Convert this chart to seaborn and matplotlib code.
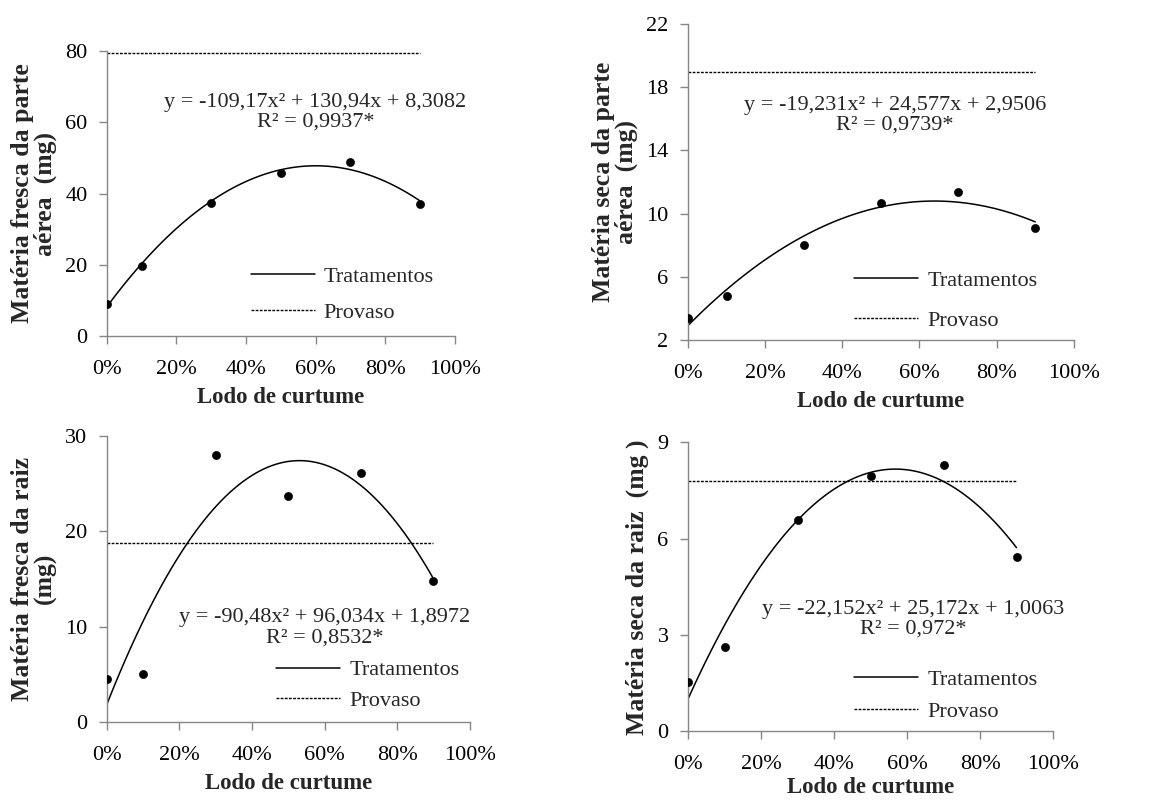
import numpy as np
import seaborn as sns
import matplotlib.pyplot as plt
from matplotlib.ticker import PercentFormatter

# Doses of tannery sludge (fraction)
dose = np.array([0.0, 0.1, 0.3, 0.5, 0.7, 0.9])

mf_parte_aerea = np.array([9.0, 19.7, 37.5, 45.8, 48.9, 37.0])
ms_parte_aerea = np.array([3.41, 4.80, 7.99, 10.67, 11.35, 9.09])
mf_raiz = np.array([4.47, 5.06, 27.98, 23.7, 26.1, 14.8])
ms_raiz = np.array([1.53, 2.63, 6.58, 7.96, 8.31, 5.44])

# Provaso reference levels
provaso = [79.5, 18.94, 18.76, 7.80]

ylabels = [
    "Matéria fresca da parte\naérea  (mg)",
    "Matéria seca da parte\naérea  (mg)",
    "Matéria fresca da raiz\n(mg)",
    "Matéria seca da raiz  (mg )",
]
equations = [
    "y = -109,17x² + 130,94x + 8,3082\nR² = 0,9937*",
    "y = -19,231x² + 24,577x + 2,9506\nR² = 0,9739*",
    "y = -90,48x² + 96,034x + 1,8972\nR² = 0,8532*",
    "y = -22,152x² + 25,172x + 1,0063\nR² = 0,972*",
]
yticks = [
    [0, 20, 40, 60, 80],
    [2, 6, 10, 14, 18, 22],
    [0, 10, 20, 30],
    [0, 3, 6, 9],
]
series = [mf_parte_aerea, ms_parte_aerea, mf_raiz, ms_raiz]

# layout: [left, bottom, width, height] in figure fraction
boxes = [
    [0.0926, 0.580, 0.301, 0.356],
    [0.5957, 0.575, 0.334, 0.395],
    [0.0926, 0.0975, 0.314, 0.358],
    [0.5957, 0.086, 0.316, 0.361],
]
eq_pos = [(0.60, 62.8), (0.537, 16.24), (0.60, 9.87), (0.617, 3.50)]
leg_pos = [(0.413, 0.145), (0.43, 0.125), (0.466, 0.128), (0.454, 0.123)]
leg_spacing = [0.7, 0.9, 0.45, 0.5]
xlabel_pad = [6, 6, 6, 2]

sns.set_theme(style="ticks")
plt.rcParams["font.family"] = ["Liberation Serif", "DejaVu Serif"]
grey = "#868686"

fig = plt.figure(figsize=(11.55, 8), dpi=100)
fig.patch.set_facecolor("white")

for i in range(4):
    ax = fig.add_axes(boxes[i])
    ax.set_facecolor("white")
    y = series[i]

    sns.regplot(
        x=dose, y=y, order=2, ci=None, scatter=False, ax=ax,
        label="Tratamentos", line_kws={"color": "black", "lw": 1.1},
    )
    ax.plot([dose.min(), dose.max()], [provaso[i], provaso[i]],
            color="black", lw=1.0, ls=(0, (2.0, 1.0)), label="Provaso")
    sns.scatterplot(x=dose, y=y, ax=ax, color="black", s=34,
                    edgecolor="black", zorder=5)

    ax.set_xlim(0, 1)
    ax.set_xticks(np.arange(0, 1.01, 0.2))
    ax.xaxis.set_major_formatter(PercentFormatter(1.0, decimals=0))
    ax.set_ylim(yticks[i][0], yticks[i][-1])
    ax.set_yticks(yticks[i])

    ax.tick_params(axis="both", labelsize=16, color=grey, length=6,
                   width=1.0, direction="out", labelcolor="black")
    ax.tick_params(axis="x", pad=11)
    ax.tick_params(axis="y", pad=8)
    for side in ["top", "right"]:
        ax.spines[side].set_visible(False)
    for side in ["left", "bottom"]:
        ax.spines[side].set_color(grey)
        ax.spines[side].set_linewidth(1.0)

    ax.set_xlabel("Lodo de curtume", fontsize=16.5, fontweight="bold",
                  labelpad=xlabel_pad[i])
    ax.set_ylabel(ylabels[i], fontsize=18.5, fontweight="bold", labelpad=6,
                  linespacing=1.0)

    ax.text(eq_pos[i][0], eq_pos[i][1], equations[i], fontsize=16,
            ha="center", va="center", multialignment="center", linespacing=1.05)

    ax.legend(loc="center left", bbox_to_anchor=leg_pos[i], frameon=False,
              fontsize=16, handlelength=2.9, handletextpad=0.4,
              labelspacing=leg_spacing[i], borderpad=0, borderaxespad=0)

fig.savefig("out.png", dpi=100, facecolor="white")
